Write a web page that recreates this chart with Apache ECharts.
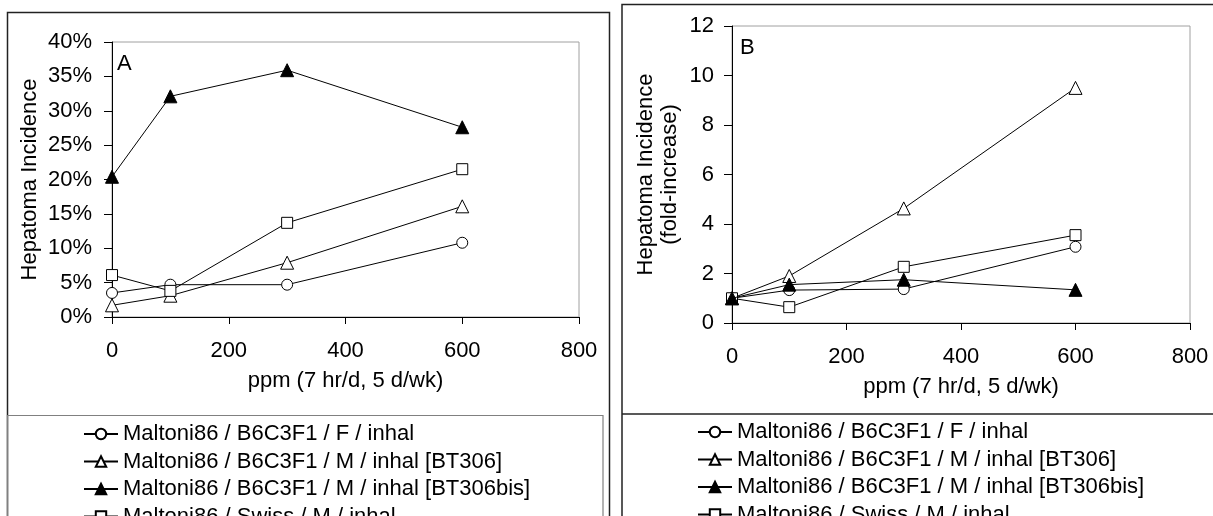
<!DOCTYPE html>
<html>
<head>
<meta charset="utf-8">
<script src="https://cdn.jsdelivr.net/npm/echarts@6/dist/echarts.min.js"></script>
<style>
  html, body { margin: 0; padding: 0; background: #fff; }
  #chart { width: 1213px; height: 516px; }
</style>
</head>
<body>
<div id="chart"></div>
<script>
// doses (ppm)
const doses = [0, 100, 300, 600];

// panel A: incidence (fraction)
const incF = [0.035, 0.047, 0.047, 0.108];
const incBT306 = [0.017, 0.031, 0.079, 0.161];
const incBT306bis = [0.204, 0.321, 0.359, 0.276];
const incSwiss = [0.061, 0.038, 0.137, 0.215];

// panel B: fold-increase over control
const foldF = [1, 1.33, 1.37, 3.08];
const foldBT306 = [1, 1.9, 4.63, 9.5];
const foldBT306bis = [1, 1.55, 1.75, 1.34];
const foldSwiss = [1, 0.64, 2.27, 3.55];

const seriesNames = [
  "Maltoni86 / B6C3F1 / F / inhal",
  "Maltoni86 / B6C3F1 / M / inhal [BT306]",
  "Maltoni86 / B6C3F1 / M / inhal [BT306bis]",
  "Maltoni86 / Swiss / M / inhal"
];

const FONT = "'Liberation Sans', Arial, sans-serif";
const FS = 22;

const markerStyles = [
  { symbol: "circle", symbolSize: 11, itemStyle: { color: "#fff", borderColor: "#000", borderWidth: 1 } },
  { symbol: "triangle", symbolSize: 13, itemStyle: { color: "#fff", borderColor: "#000", borderWidth: 1 } },
  { symbol: "triangle", symbolSize: 13, itemStyle: { color: "#000", borderColor: "#000", borderWidth: 1 } },
  { symbol: "rect", symbolSize: 11, itemStyle: { color: "#fff", borderColor: "#000", borderWidth: 1 } }
];

function pairs(vals) {
  return doses.map((d, i) => [d, vals[i]]);
}

function makeSeries(valsList, axisIdx) {
  return valsList.map((vals, i) => ({
    name: seriesNames[i],
    type: "line",
    xAxisIndex: axisIdx,
    yAxisIndex: axisIdx,
    data: pairs(vals),
    symbol: markerStyles[i].symbol,
    symbolSize: markerStyles[i].symbolSize,
    showAllSymbol: true,
    itemStyle: markerStyles[i].itemStyle,
    lineStyle: { color: "#000", width: 1 },
    z: i === 2 ? 4 : 3,
    animation: false
  }));
}

const xAxisBase = {
  type: "value",
  min: 0,
  max: 800,
  interval: 200,
  name: "ppm (7 hr/d, 5 d/wk)",
  nameLocation: "middle",
  nameGap: 53,
  nameTextStyle: { fontFamily: FONT, fontSize: FS, color: "#000" },
  axisLine: { show: true, onZero: false, lineStyle: { color: "#000", width: 1 } },
  axisTick: { show: true, inside: false, length: 7, lineStyle: { color: "#000" } },
  axisLabel: { fontFamily: FONT, fontSize: FS, color: "#000", margin: 23 },
  splitLine: { show: false }
};

function legendAt(left, top) {
  return {
    orient: "vertical",
    left: left,
    top: top,
    height: 200,
    padding: 0,
    itemWidth: 34,
    itemHeight: 13,
    itemGap: 5.5,
    data: seriesNames,
    selectedMode: false,
    textStyle: { fontFamily: FONT, fontSize: FS, color: "#000", lineHeight: 22 }
  };
}

const chart = echarts.init(document.getElementById("chart"));

chart.setOption({
  backgroundColor: "#fff",
  animation: false,
  grid: [
    { left: 112, top: 42, width: 467, height: 275, show: true, borderColor: "#a0a0a0", borderWidth: 1 },
    { left: 732, top: 26, width: 458, height: 297, show: true, borderColor: "#a0a0a0", borderWidth: 1 }
  ],
  xAxis: [
    Object.assign({}, xAxisBase, { gridIndex: 0 }),
    Object.assign({}, xAxisBase, { gridIndex: 1 })
  ],
  yAxis: [
    {
      gridIndex: 0,
      type: "value",
      min: 0,
      max: 0.4,
      interval: 0.05,
      name: "Hepatoma Incidence",
      nameLocation: "middle",
      nameGap: 71,
      nameTextStyle: { fontFamily: FONT, fontSize: FS, color: "#000" },
      axisLine: { show: true, lineStyle: { color: "#000", width: 1 } },
      axisTick: { show: true, length: 8, lineStyle: { color: "#000" } },
      axisLabel: {
        fontFamily: FONT, fontSize: FS, color: "#000", margin: 20,
        formatter: v => Math.round(v * 100) + "%"
      },
      splitLine: { show: false }
    },
    {
      gridIndex: 1,
      type: "value",
      min: 0,
      max: 12,
      interval: 2,
      name: "Hepatoma Incidence\n(fold-increase)",
      nameLocation: "middle",
      nameGap: 50,
      nameTextStyle: { fontFamily: FONT, fontSize: FS, color: "#000", lineHeight: 24 },
      axisLine: { show: true, lineStyle: { color: "#000", width: 1 } },
      axisTick: { show: true, length: 8, lineStyle: { color: "#000" } },
      axisLabel: { fontFamily: FONT, fontSize: FS, color: "#000", margin: 18 },
      splitLine: { show: false }
    }
  ],
  legend: [legendAt(83, 423), legendAt(697, 421)],
  graphic: [
    // panel frames
    { type: "rect", shape: { x: 7.5, y: 12.5, width: 602, height: 540 }, style: { fill: null, stroke: "#222", lineWidth: 1.5 }, z: 0, silent: true },
    { type: "rect", shape: { x: 7.5, y: 415.5, width: 595.5, height: 140 }, style: { fill: null, stroke: "#808080", lineWidth: 1.2 }, z: 0, silent: true },
    { type: "rect", shape: { x: 622, y: 4.5, width: 620, height: 560 }, style: { fill: null, stroke: "#222", lineWidth: 1.5 }, z: 0, silent: true },
    { type: "line", shape: { x1: 622, y1: 414, x2: 1213, y2: 414 }, style: { stroke: "#222", lineWidth: 1.5 }, z: 0, silent: true },
    // panel letters
    { type: "text", left: 117, top: 53, style: { text: "A", font: FS + "px " + FONT, fill: "#000" }, z: 10 },
    { type: "text", left: 740, top: 37, style: { text: "B", font: FS + "px " + FONT, fill: "#000" }, z: 10 }
  ],
  series: makeSeries([incF, incBT306, incBT306bis, incSwiss], 0)
    .concat(makeSeries([foldF, foldBT306, foldBT306bis, foldSwiss], 1))
});
</script>
</body>
</html>
